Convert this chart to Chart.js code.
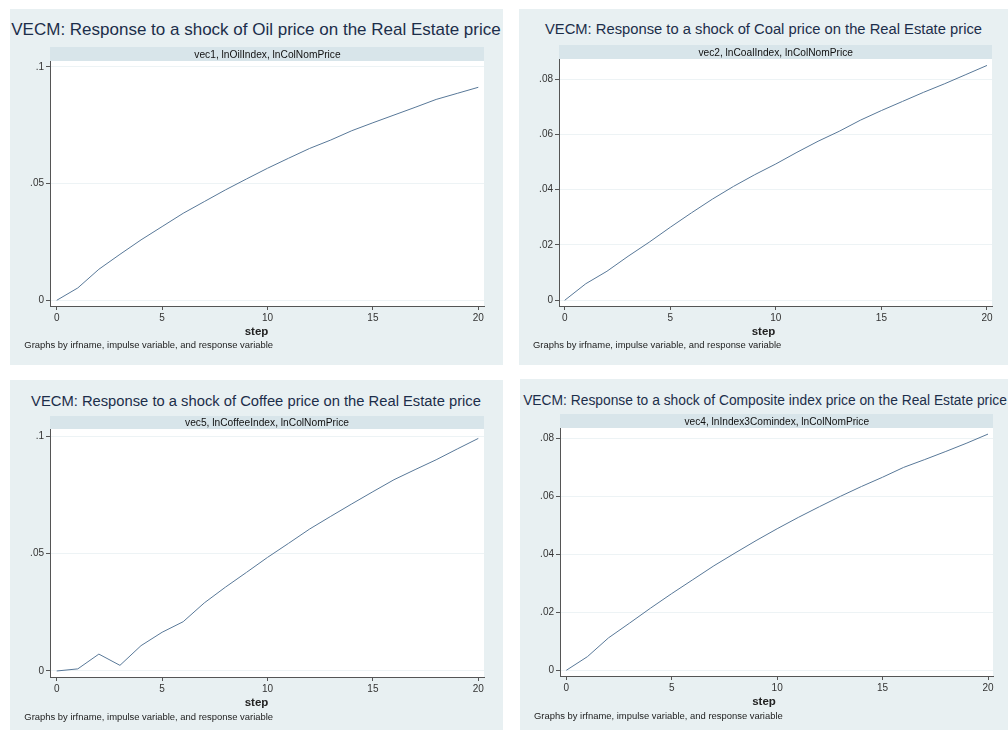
<!DOCTYPE html>
<html><head><meta charset="utf-8">
<script src="https://cdn.jsdelivr.net/npm/chart.js@4.4.1/dist/chart.umd.min.js"></script>
<style>
html,body{margin:0;padding:0;background:#fff;width:1008px;height:731px;overflow:hidden;font-family:"Liberation Sans",Arial,sans-serif;}
.box{position:absolute;}
.txt{position:absolute;white-space:nowrap;}
canvas{position:absolute;}
</style></head><body>
<script>
// ---- data ----
const steps = [0,1,2,3,4,5,6,7,8,9,10,11,12,13,14,15,16,17,18,19,20];
const oilResponse = [0,0.0053,0.0133,0.0197,0.0259,0.0316,0.0373,0.0423,0.0473,0.0520,0.0566,0.0609,0.0651,0.0687,0.0727,0.0761,0.0794,0.0827,0.0861,0.0887,0.0913];
const coalResponse = [0,0.0060,0.0105,0.0159,0.0210,0.0264,0.0316,0.0366,0.0412,0.0454,0.0493,0.0535,0.0575,0.0611,0.0651,0.0686,0.0719,0.0752,0.0783,0.0816,0.0849];
const coffeeResponse = [0,0.0009,0.0072,0.0024,0.0108,0.0165,0.0210,0.0290,0.0357,0.0420,0.0484,0.0544,0.0605,0.0659,0.0712,0.0764,0.0815,0.0858,0.0900,0.0946,0.0991];
const compositeResponse = [0,0.0047,0.0112,0.0163,0.0215,0.0265,0.0313,0.0361,0.0405,0.0448,0.0489,0.0528,0.0565,0.0601,0.0635,0.0667,0.0701,0.0728,0.0756,0.0785,0.0816];
const xTicks = [0,5,10,15,20];
const xTickLabels = ['0','5','10','15','20'];
const yTicksWide = [0,0.05,0.1];
const yTickLabelsWide = ['0','.05','.1'];
const yTicksFine = [0,0.02,0.04,0.06,0.08];
const yTickLabelsFine = ['0','.02','.04','.06','.08'];
const panelTitles = [
  'VECM: Response to a shock of Oil price on the Real Estate price',
  'VECM: Response to a shock of Coal price on the Real Estate price',
  'VECM: Response to a shock of Coffee price on the Real Estate price',
  'VECM: Response to a shock of Composite index price on the Real Estate price'
];
const stripLabels = [
  'vec1, lnOilIndex, lnColNomPrice',
  'vec2, lnCoalIndex, lnColNomPrice',
  'vec5, lnCoffeeIndex, lnColNomPrice',
  'vec4, lnIndex3Comindex, lnColNomPrice'
];
const xAxisTitle = 'step';
const noteText = 'Graphs by irfname, impulse variable, and response variable';

// ---- styling / layout ----
const FONT = '"Liberation Sans", Arial, sans-serif';
const BG = '#e8f0f2', STRIP = '#d8e5ea', LINE = '#587898', AXIS = '#555555', GRID = '#edf3f5', TICKC = '#333333', TITLEC = '#1c2e4a';

const layouts = [
  {panel:[10,9,503,365], plot:[50,61,484,306], strip:[47,61], titleCx:256, titleCy:30.3, titleW:490,
   stripCx:267.5, stripW:146.4, stepCy:331, noteX:24.3, noteCy:344.7, noteW:249,
   xr:[-0.318,20.27], yr:[-0.00244,0.10257]},
  {panel:[519,9,1008,365], plot:[559,59,992,306], strip:[45,59], titleCx:763.5, titleCy:29.8, titleW:437,
   stripCx:775.7, stripW:154.7, stepCy:331, noteX:533, noteCy:344.7, noteW:248.7,
   xr:[-0.27,20.237], yr:[-0.00206,0.08723]},
  {panel:[10,380,503,730], plot:[50,429,484,677], strip:[416,429], titleCx:256, titleCy:401, titleW:450,
   stripCx:267, stripW:164, stepCy:702, noteX:24.3, noteCy:716.5, noteW:249,
   xr:[-0.318,20.27], yr:[-0.00256,0.10311]},
  {panel:[520,379,1008,730], plot:[560,428,993,676], strip:[414,428], titleCx:765, titleCy:399.8, titleW:484,
   stripCx:776.8, stripW:185, stepCy:701.6, noteX:534, noteCy:716, noteW:249,
   xr:[-0.299,20.237], yr:[-0.00197,0.0837]}
];
const seriesList = [oilResponse, coalResponse, coffeeResponse, compositeResponse];
const tickSets = [[yTicksWide,yTickLabelsWide],[yTicksFine,yTickLabelsFine],[yTicksWide,yTickLabelsWide],[yTicksFine,yTickLabelsFine]];

const mctx = document.createElement('canvas').getContext('2d');
function fitSize(str, w, weight){ mctx.font = weight+' 100px '+FONT; return 100*w/mctx.measureText(str).width; }

function addBox(x1,y1,x2,y2,color){
  const d=document.createElement('div'); d.className='box';
  Object.assign(d.style,{left:x1+'px',top:y1+'px',width:(x2-x1)+'px',height:(y2-y1)+'px',background:color});
  document.body.appendChild(d);
}
function addText(str, x, cy, fs, weight, color, align, w){
  const d=document.createElement('div'); d.className='txt'; d.textContent=str;
  const lh = Math.round(fs*1.3);
  Object.assign(d.style,{fontSize:fs+'px',fontWeight:weight,color:color,lineHeight:lh+'px',height:lh+'px',top:(cy-lh/2)+'px',fontFamily:FONT});
  if(align==='center'){ d.style.left=(x-w/2-100)+'px'; d.style.width=(w+200)+'px'; d.style.textAlign='center'; }
  else { d.style.left=x+'px'; }
  document.body.appendChild(d);
}

function makeChart(p, values, yTicks, yLabels){
  const c=document.createElement('canvas');
  const cl=p.panel[0], ct=p.plot[1]-10;
  const cw=p.panel[2]-p.panel[0], ch=p.plot[3]+22-ct;
  c.width=cw; c.height=ch; c.style.left=cl+'px'; c.style.top=ct+'px';
  c.style.width=cw+'px'; c.style.height=ch+'px';
  document.body.appendChild(c);
  new Chart(c,{
    type:'line',
    data:{datasets:[{data:steps.map((s,i)=>({x:s,y:values[i]})),borderColor:LINE,borderWidth:1,pointRadius:0,fill:false,tension:0}]},
    options:{
      responsive:false, animation:false, devicePixelRatio:1,
      layout:{padding:{left:0,top:10,right:p.panel[2]-p.plot[2],bottom:0}},
      plugins:{legend:{display:false},tooltip:{enabled:false},title:{display:false}},
      scales:{
        x:{type:'linear',min:p.xr[0],max:p.xr[1],
          afterBuildTicks:s=>{s.ticks=xTicks.map(v=>({value:v}));},
          afterFit:s=>{s.height=22;},
          ticks:{callback:v=>xTickLabels[xTicks.indexOf(v)],font:{family:FONT,size:10},color:TICKC,padding:2,maxRotation:0,autoSkip:false},
          grid:{drawOnChartArea:false,drawTicks:true,tickLength:4,tickColor:AXIS,tickWidth:1},
          border:{display:true,color:AXIS,width:1}},
        y:{type:'linear',min:p.yr[0],max:p.yr[1],
          afterBuildTicks:s=>{s.ticks=yTicks.map(v=>({value:v}));},
          afterFit:s=>{s.width=p.plot[0]-p.panel[0];},
          ticks:{callback:v=>yLabels[yTicks.indexOf(v)],font:{family:FONT,size:10},color:TICKC,padding:2,autoSkip:false},
          grid:{color:GRID,lineWidth:1,drawTicks:true,tickLength:4,tickColor:AXIS,tickWidth:1},
          border:{display:true,color:AXIS,width:1}}
      }
    }
  });
}

layouts.forEach((p,i)=>{
  addBox(p.panel[0],p.panel[1],p.panel[2],p.panel[3],BG);
  addBox(p.plot[0],p.strip[0],p.plot[2],p.strip[1],STRIP);
  addBox(p.plot[0],p.plot[1],p.plot[2],p.plot[3],'#ffffff');
  makeChart(p, seriesList[i], tickSets[i][0], tickSets[i][1]);
  addText(panelTitles[i], p.titleCx, p.titleCy, fitSize(panelTitles[i],p.titleW,'normal'), 'normal', TITLEC, 'center', p.titleW);
  addText(stripLabels[i], p.stripCx, (p.strip[0]+p.strip[1])/2, fitSize(stripLabels[i],p.stripW,'normal'), 'normal', '#111111', 'center', p.stripW);
  addText(xAxisTitle, (p.panel[0]+p.panel[2])/2, p.stepCy, 11.5, 'bold', '#222222', 'center', 40);
  addText(noteText, p.noteX, p.noteCy, fitSize(noteText,p.noteW,'normal'), 'normal', '#222222', 'left', p.noteW);
});
</script>
</body></html>
